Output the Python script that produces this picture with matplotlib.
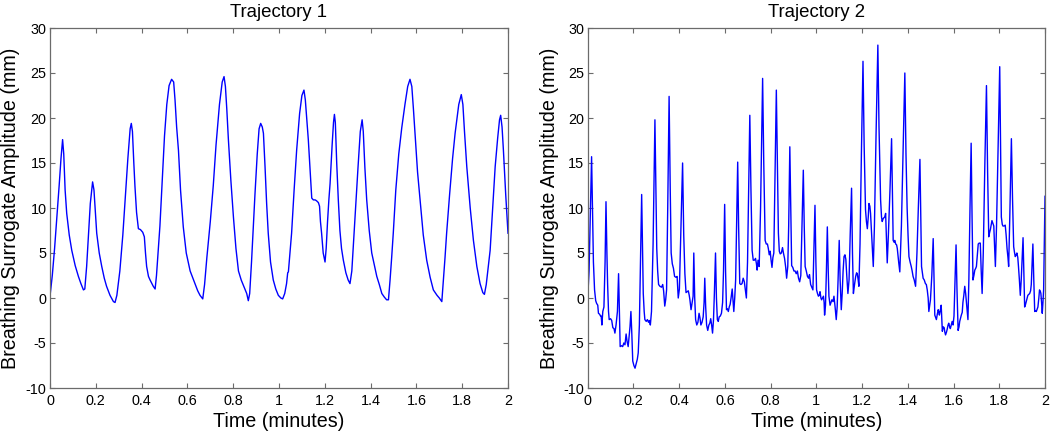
import matplotlib
matplotlib.use("Agg")
import matplotlib.pyplot as plt

# ---------------- data ----------------
titles = ["Trajectory 1", "Trajectory 2"]
xlabel = "Time (minutes)"
ylabel = "Breathing Surrogate Amplitude (mm)"
xticks = [0, 0.2, 0.4, 0.6, 0.8, 1, 1.2, 1.4, 1.6, 1.8, 2]
xtick_labels = ["0", "0.2", "0.4", "0.6", "0.8", "1", "1.2", "1.4", "1.6", "1.8", "2"]
yticks = [-10, -5, 0, 5, 10, 15, 20, 25, 30]
ytick_labels = ["-10", "-5", "0", "5", "10", "15", "20", "25", "30"]

t1 = [0.000, 0.010, 0.020, 0.030, 0.040, 0.048, 0.055, 0.060, 0.066, 0.073, 0.084, 0.095, 0.110, 0.124,
      0.135, 0.146, 0.152, 0.160, 0.168, 0.176, 0.186, 0.192, 0.204, 0.215, 0.226, 0.237, 0.247, 0.262,
      0.277, 0.284, 0.292, 0.305, 0.318, 0.328, 0.340, 0.350, 0.355, 0.360, 0.366, 0.371, 0.378, 0.386,
      0.395, 0.405, 0.412, 0.417, 0.422, 0.430, 0.437, 0.445, 0.451, 0.459, 0.465, 0.472, 0.480, 0.490,
      0.500, 0.510, 0.520, 0.531, 0.540, 0.546, 0.553, 0.561, 0.570, 0.582, 0.595, 0.612, 0.630, 0.645,
      0.655, 0.667, 0.675, 0.685, 0.700, 0.713, 0.725, 0.740, 0.752, 0.760, 0.766, 0.772, 0.779, 0.790,
      0.801, 0.812, 0.823, 0.835, 0.848, 0.859, 0.866, 0.872, 0.880, 0.888, 0.895, 0.905, 0.913, 0.920,
      0.927, 0.932, 0.939, 0.946, 0.953, 0.963, 0.975, 0.986, 0.997, 1.008, 1.016, 1.025, 1.033, 1.038,
      1.041, 1.048, 1.055, 1.066, 1.077, 1.090, 1.100, 1.109, 1.115, 1.121, 1.128, 1.135, 1.143, 1.150,
      1.158, 1.164, 1.172, 1.177, 1.181, 1.186, 1.193, 1.201, 1.206, 1.212, 1.218, 1.223, 1.232, 1.238,
      1.242, 1.246, 1.252, 1.259, 1.266, 1.273, 1.281, 1.292, 1.302, 1.310, 1.318, 1.325, 1.332, 1.345,
      1.355, 1.363, 1.368, 1.375, 1.383, 1.394, 1.405, 1.416, 1.427, 1.438, 1.449, 1.460, 1.470, 1.478,
      1.485, 1.492, 1.499, 1.510, 1.523, 1.536, 1.550, 1.562, 1.572, 1.580, 1.587, 1.594, 1.605, 1.616,
      1.630, 1.645, 1.660, 1.674, 1.690, 1.700, 1.711, 1.718, 1.725, 1.732, 1.745, 1.758, 1.769, 1.785,
      1.796, 1.803, 1.810, 1.820, 1.835, 1.849, 1.864, 1.878, 1.890, 1.897, 1.905, 1.914, 1.922, 1.933,
      1.944, 1.955, 1.963, 1.968, 1.974, 1.980, 1.990, 2.000]
a1 = [0.2, 2.5, 5.5, 9.0, 12.5, 15.5, 17.6, 16.0, 12.0, 9.4, 7.0, 5.3, 3.6, 2.4,
      1.6, 0.9, 1.0, 3.5, 7.0, 10.5, 12.9, 12.0, 7.2, 5.0, 3.5, 2.2, 1.3, 0.3,
      -0.4, -0.5, 0.3, 3.0, 7.0, 10.9, 15.5, 18.8, 19.4, 18.5, 15.0, 12.4, 9.5, 7.7,
      7.6, 7.3, 6.8, 5.0, 3.5, 2.4, 2.0, 1.6, 1.3, 1.0, 2.5, 5.0, 8.0, 13.0,
      18.0, 21.5, 23.6, 24.3, 24.0, 22.0, 19.0, 16.4, 12.0, 7.9, 5.0, 3.0, 1.8, 0.8,
      0.3, -0.1, 1.5, 4.5, 8.5, 12.5, 17.0, 21.5, 24.0, 24.6, 23.5, 21.0, 17.6, 13.0,
      9.0, 5.5, 3.0, 2.0, 1.2, 0.5, -0.3, 0.5, 4.0, 8.0, 11.5, 16.0, 18.8, 19.4,
      19.0, 18.3, 14.6, 10.5, 7.2, 4.0, 2.0, 1.0, 0.3, 0.0, -0.1, 0.5, 1.6, 2.8,
      2.9, 5.0, 7.2, 12.0, 16.4, 20.5, 22.5, 23.1, 22.0, 20.0, 17.6, 14.5, 11.1, 10.9,
      10.9, 10.8, 10.6, 10.2, 8.5, 7.2, 5.0, 4.0, 5.5, 8.5, 11.0, 12.7, 17.0, 19.5,
      20.4, 19.5, 15.0, 10.9, 7.5, 5.5, 4.2, 2.8, 2.0, 1.6, 3.0, 6.0, 9.0, 14.5,
      18.5, 19.8, 18.5, 14.5, 10.9, 7.5, 5.0, 3.7, 2.4, 1.5, 0.5, 0.1, -0.2, -0.2,
      2.0, 4.5, 7.2, 12.0, 16.0, 18.9, 21.5, 23.5, 24.3, 23.5, 21.0, 18.3, 14.0, 10.9,
      7.0, 4.2, 2.3, 0.9, 0.3, 0.0, -0.4, 2.0, 4.5, 7.2, 11.5, 15.5, 18.3, 21.5,
      22.6, 21.5, 18.5, 14.6, 10.0, 6.4, 3.5, 1.6, 0.6, 0.4, 1.5, 3.5, 5.3, 10.0,
      14.6, 17.8, 19.8, 20.3, 19.0, 16.4, 11.5, 7.2]

t2 = [0.000, 0.006, 0.012, 0.017, 0.021, 0.025, 0.030, 0.035, 0.039, 0.044, 0.047, 0.052, 0.056, 0.059,
      0.062, 0.066, 0.071, 0.076, 0.080, 0.084, 0.087, 0.091, 0.094, 0.100, 0.105, 0.110, 0.115, 0.119,
      0.124, 0.130, 0.135, 0.139, 0.142, 0.148, 0.153, 0.158, 0.163, 0.168, 0.172, 0.177, 0.182, 0.185,
      0.189, 0.193, 0.197, 0.202, 0.207, 0.212, 0.217, 0.221, 0.226, 0.231, 0.236, 0.240, 0.243, 0.247,
      0.250, 0.256, 0.261, 0.266, 0.270, 0.274, 0.279, 0.286, 0.294, 0.298, 0.302, 0.306, 0.310, 0.316,
      0.323, 0.328, 0.332, 0.337, 0.341, 0.345, 0.350, 0.356, 0.361, 0.365, 0.370, 0.375, 0.380, 0.386,
      0.391, 0.396, 0.401, 0.407, 0.415, 0.420, 0.425, 0.430, 0.435, 0.440, 0.444, 0.447, 0.452, 0.457,
      0.461, 0.464, 0.468, 0.472, 0.477, 0.482, 0.487, 0.491, 0.495, 0.500, 0.505, 0.509, 0.512, 0.516,
      0.520, 0.525, 0.530, 0.534, 0.538, 0.542, 0.546, 0.550, 0.554, 0.559, 0.563, 0.567, 0.571, 0.575,
      0.580, 0.585, 0.590, 0.594, 0.599, 0.603, 0.607, 0.611, 0.615, 0.619, 0.623, 0.627, 0.632, 0.636,
      0.639, 0.643, 0.647, 0.651, 0.656, 0.660, 0.665, 0.670, 0.675, 0.680, 0.685, 0.689, 0.694, 0.699,
      0.704, 0.709, 0.714, 0.719, 0.724, 0.729, 0.734, 0.738, 0.741, 0.745, 0.750, 0.756, 0.765, 0.770,
      0.776, 0.781, 0.786, 0.790, 0.794, 0.798, 0.802, 0.806, 0.810, 0.814, 0.819, 0.825, 0.830, 0.834,
      0.838, 0.842, 0.847, 0.852, 0.856, 0.861, 0.866, 0.870, 0.875, 0.879, 0.884, 0.888, 0.892, 0.897,
      0.902, 0.907, 0.912, 0.917, 0.922, 0.927, 0.932, 0.937, 0.943, 0.947, 0.951, 0.956, 0.961, 0.966,
      0.970, 0.975, 0.980, 0.985, 0.989, 0.994, 0.998, 1.001, 1.005, 1.009, 1.013, 1.016, 1.020, 1.023,
      1.027, 1.031, 1.034, 1.036, 1.040, 1.044, 1.048, 1.052, 1.055, 1.060, 1.064, 1.068, 1.073, 1.077,
      1.082, 1.087, 1.091, 1.095, 1.100, 1.104, 1.109, 1.113, 1.117, 1.121, 1.125, 1.129, 1.133, 1.138,
      1.143, 1.148, 1.154, 1.158, 1.162, 1.167, 1.172, 1.176, 1.179, 1.183, 1.186, 1.191, 1.197, 1.204,
      1.209, 1.215, 1.219, 1.223, 1.227, 1.230, 1.234, 1.237, 1.242, 1.246, 1.249, 1.254, 1.261, 1.269,
      1.274, 1.281, 1.285, 1.288, 1.292, 1.295, 1.299, 1.303, 1.306, 1.310, 1.315, 1.322, 1.329, 1.333,
      1.336, 1.340, 1.343, 1.347, 1.351, 1.354, 1.356, 1.360, 1.365, 1.372, 1.380, 1.387, 1.392, 1.397,
      1.401, 1.405, 1.410, 1.415, 1.419, 1.423, 1.428, 1.434, 1.440, 1.446, 1.453, 1.457, 1.460, 1.464,
      1.467, 1.472, 1.477, 1.481, 1.485, 1.489, 1.492, 1.496, 1.499, 1.505, 1.511, 1.515, 1.518, 1.522,
      1.525, 1.529, 1.533, 1.536, 1.538, 1.542, 1.546, 1.549, 1.551, 1.555, 1.559, 1.562, 1.565, 1.569,
      1.572, 1.576, 1.579, 1.583, 1.586, 1.590, 1.594, 1.598, 1.602, 1.606, 1.611, 1.615, 1.620, 1.624,
      1.627, 1.631, 1.634, 1.638, 1.641, 1.645, 1.649, 1.653, 1.656, 1.660, 1.663, 1.667, 1.672, 1.677,
      1.681, 1.685, 1.689, 1.693, 1.697, 1.700, 1.704, 1.708, 1.712, 1.717, 1.721, 1.725, 1.730, 1.737,
      1.744, 1.749, 1.754, 1.758, 1.761, 1.765, 1.768, 1.772, 1.776, 1.779, 1.783, 1.788, 1.795, 1.802,
      1.806, 1.809, 1.813, 1.816, 1.821, 1.826, 1.830, 1.834, 1.838, 1.841, 1.846, 1.853, 1.858, 1.863,
      1.867, 1.870, 1.874, 1.877, 1.881, 1.884, 1.888, 1.892, 1.896, 1.900, 1.904, 1.908, 1.911, 1.915,
      1.918, 1.922, 1.925, 1.929, 1.933, 1.937, 1.940, 1.944, 1.947, 1.951, 1.955, 1.958, 1.962, 1.966,
      1.969, 1.973, 1.976, 1.980, 1.982, 1.985, 1.988, 1.991, 1.994, 1.997, 2.000]
a2 = [0.0, 3.0, 10.0, 15.7, 10.0, 4.0, 0.9, -0.3, -0.6, -0.8, -1.7, -1.8, -2.0, -2.0,
      -3.0, -1.5, -1.0, 4.0, 10.7, 5.0, 1.6, -1.5, -2.4, -2.3, -2.5, -3.3, -3.4, -3.9,
      -3.0, -1.5, 2.7, -2.0, -5.4, -5.3, -5.4, -5.0, -5.2, -4.0, -4.8, -5.4, -4.0, -3.2,
      -1.5, -4.0, -7.0, -7.5, -7.8, -7.3, -6.8, -6.1, -3.0, 4.0, 11.5, 5.0, 0.5, -1.5,
      -2.4, -2.6, -2.4, -2.7, -2.5, -3.0, -1.5, 6.0, 19.8, 13.0, 5.5, 3.0, 1.5, 1.3,
      1.2, 1.5, 0.8, -0.9, -0.2, 0.9, 10.0, 22.4, 12.0, 5.0, 3.8, 3.3, 2.4, 2.3,
      2.4, 0.0, 1.0, 7.0, 15.0, 7.0, 2.7, 0.6, 0.7, 0.8, 0.3, -0.2, -1.3, -0.5,
      0.2, 5.0, 0.0, -2.4, -3.0, -2.7, -1.7, -2.2, -3.0, -2.7, -2.1, -0.5, 2.2, -1.0,
      -3.0, -3.6, -3.0, -2.8, -2.3, -3.0, -3.9, -2.5, 0.5, 5.0, 0.0, -2.4, -2.6, -2.1,
      -2.0, -1.7, -0.5, 3.0, 10.4, 3.0, -1.3, -1.2, -1.5, -1.0, -0.7, 0.0, 1.0, -0.5,
      -1.5, 0.0, 2.0, 8.0, 15.1, 8.0, 1.6, 1.5, 1.6, 2.2, 1.8, 1.0, 0.0, 4.0,
      12.0, 20.3, 12.0, 5.3, 4.2, 4.2, 4.4, 3.8, 3.1, 4.2, 3.5, 10.0, 24.4, 15.0,
      6.4, 6.0, 6.0, 5.5, 4.8, 5.2, 4.2, 3.4, 4.5, 5.0, 13.0, 23.1, 14.0, 7.2,
      5.2, 4.9, 5.0, 5.6, 5.0, 4.4, 3.4, 2.2, 3.5, 8.0, 16.8, 10.0, 3.6, 3.4,
      3.0, 3.0, 2.7, 3.0, 2.2, 1.8, 2.5, 8.0, 14.2, 8.0, 3.5, 3.0, 2.4, 2.2,
      2.6, 1.5, 1.2, 0.9, 5.0, 10.3, 4.0, 0.9, 0.5, 0.2, 0.3, 0.7, 0.0, -0.2,
      0.0, 0.2, -0.5, -1.9, -0.8, 3.0, 7.9, 3.0, 0.2, -0.8, -0.5, -0.2, -0.4, 0.2,
      -1.0, -2.4, -1.0, 2.0, 6.4, 2.0, -1.3, 0.5, 3.0, 4.6, 4.8, 4.3, 2.5, 0.5,
      2.0, 7.0, 12.2, 5.0, 0.5, 1.5, 2.4, 2.8, 2.7, 2.0, 1.3, 6.0, 16.0, 26.3,
      17.0, 9.8, 8.5, 7.7, 9.0, 10.5, 10.2, 9.4, 7.0, 5.0, 3.5, 8.0, 18.0, 28.1,
      19.0, 10.9, 9.0, 8.5, 8.8, 8.9, 9.0, 9.4, 7.0, 3.9, 7.0, 12.0, 17.7, 11.0,
      6.4, 6.2, 6.4, 6.0, 5.9, 5.5, 5.0, 4.0, 2.9, 8.0, 17.0, 25.0, 16.0, 10.0,
      7.0, 4.6, 4.0, 3.5, 3.0, 2.4, 2.0, 1.3, 5.0, 10.0, 15.4, 9.0, 3.5, 2.8,
      2.2, 2.0, 1.6, 1.5, 0.9, 0.0, -1.5, -0.8, -0.2, 2.5, 6.6, 2.0, -1.9, -2.2,
      -2.4, -1.8, -1.3, -1.6, -1.9, -1.4, -0.8, -2.5, -3.7, -3.2, -3.3, -3.8, -4.1, -3.8,
      -3.5, -3.0, -2.8, -3.2, -3.4, -3.0, -2.6, -3.0, -2.0, 1.5, 5.9, 1.0, -3.6, -3.2,
      -2.6, -2.2, -1.9, -1.6, -0.5, 0.3, 1.3, 0.5, -0.4, -1.5, -2.4, 2.0, 10.0, 17.2,
      9.0, 2.0, 2.5, 3.1, 3.3, 3.5, 4.8, 6.0, 6.1, 6.1, 3.0, 0.5, 5.0, 15.0,
      23.6, 14.0, 6.8, 7.3, 7.6, 8.2, 8.6, 8.3, 8.0, 6.0, 3.5, 8.0, 17.0, 25.7,
      16.0, 9.0, 8.2, 8.0, 8.0, 8.1, 7.0, 5.5, 4.5, 3.5, 9.0, 17.7, 11.0, 5.7,
      5.0, 4.6, 4.8, 5.0, 4.5, 3.5, 2.0, 0.3, 2.0, 4.5, 6.7, 2.5, -1.0, -0.7,
      -0.4, 0.0, 0.3, 0.4, 0.5, 0.8, 1.5, 4.0, 6.0, 2.0, -1.5, -1.4, -1.5, -1.2,
      -1.0, 0.0, 0.9, 0.7, 0.5, -0.5, -1.7, -0.5, 0.9, 6.0, 11.3]

series = [(t1, a1), (t2, a2)]

# ---------------- figure ----------------
W, H = 1050, 433
fig = plt.figure(figsize=(W / 100, H / 100), dpi=100)
plt.rcParams["font.family"] = ["Liberation Sans", "DejaVu Sans"]

ax_px = [(50, 508), (587.7, 1045)]
top_px, bot_px = 28, 388
ylabel_off = [-0.087, -0.083]

spine_col = "#6b6b6b"
for i, ((x0, x1), (t, a)) in enumerate(zip(ax_px, series)):
    ax = fig.add_axes([x0 / W, (H - bot_px) / H, (x1 - x0) / W, (bot_px - top_px) / H])
    ax.plot(t, a, color="#0000ff", lw=1.0)
    ax.set_xlim(0, 2)
    ax.set_ylim(-10, 30)
    ax.set_xticks(xticks)
    ax.set_xticklabels(xtick_labels)
    ax.set_yticks(yticks)
    ax.set_yticklabels(ytick_labels)
    ax.tick_params(direction="in", length=3.5, width=0.8, color=spine_col,
                   top=True, right=True, labelsize=10.4, labelcolor="black")
    ax.tick_params(axis="x", pad=4.5)
    ax.tick_params(axis="y", pad=2.5)
    for s in ax.spines.values():
        s.set_color(spine_col)
        s.set_linewidth(0.9)
    ax.set_xlabel(xlabel, fontsize=14.2, va="baseline")
    ax.xaxis.set_label_coords(0.5, -0.108)
    ax.set_ylabel(ylabel, fontsize=14.2, va="center")
    ax.yaxis.set_label_coords(ylabel_off[i], 0.5)
    ax.text(0.5, 1.031, titles[i], transform=ax.transAxes, ha="center",
            va="baseline", fontsize=13.4)

fig.savefig("out.png", dpi=100)
